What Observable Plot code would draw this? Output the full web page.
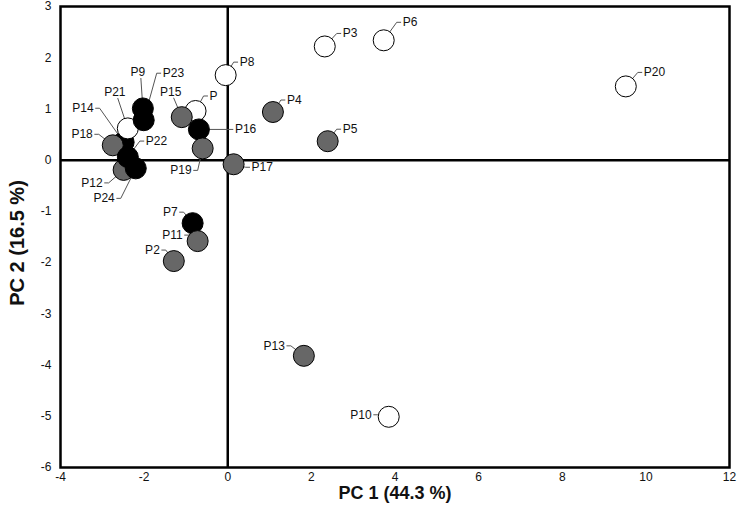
<!DOCTYPE html>
<html><head><meta charset="utf-8">
<script src="https://cdn.jsdelivr.net/npm/d3@7"></script>
<script src="https://cdn.jsdelivr.net/npm/@observablehq/plot@0.6"></script>
<style>body{margin:0;background:#fff}</style>
</head><body><div id="chart"></div><script>
// ---- data ----
const names  = ["P","P2","P3","P4","P5","P6","P7","P8","P9","P10","P11","P12","P13","P14","P15","P16","P17","P18","P19","P20","P21","P22","P23","P24"];
const pc1    = [-0.77,-1.29,2.32,1.08,2.39,3.73,-0.84,-0.05,-2.03,3.85,-0.72,-2.49,1.82,-2.49,-1.10,-0.69,0.14,-2.75,-0.60,9.52,-2.39,-2.39,-2.01,-2.20];
const pc2    = [0.96,-1.97,2.22,0.94,0.37,2.34,-1.23,1.66,1.01,-5.01,-1.58,-0.19,-3.82,0.35,0.84,0.60,-0.08,0.29,0.23,1.44,0.62,0.06,0.78,-0.16];
const groups = ["open","gray","open","gray","gray","open","black","open","black","open","gray","gray","gray","black","gray","black","gray","gray","gray","open","open","black","black","black"];
const groupDomain = ["open","black","gray"];
const groupColors = ["white","black","#676767"];
const xTicks = [-4,-2,0,2,4,6,8,10,12];
const yTicks = [-6,-5,-4,-3,-2,-1,0,1,2,3];
const xTitle = "PC 1 (44.3 %)";
const yTitle = "PC 2 (16.5 %)";

// ---- label layout: leader elbow offset (px) and side of the label ----
const elbowDx = [8,-8,12,8,9,13,-9,8,-2,-11,-9,-15,-13,-24,-8,30,12,-14,-5,12,-10,12,13,-15];
const elbowDy = [-15,-11,-13,-12,-12,-18,-11,-13,-30,-2,-6,13,-10,-34,-19,0,3,-11,22,-14,-30,-16,-47,30];
const side    = ["r","l","r","r","r","r","l","r","u","l","l","l","l","l","u","r","r","l","l","r","u","r","r","l"];

// ---- layout ----
const W = 738, H = 513, mL = 60, mR = 9, mT = 6, mB = 46;
const xDom = [-4, 12], yDom = [-6, 3];
const kx = (xDom[1]-xDom[0]) / (W - mL - mR);
const ky = (yDom[1]-yDom[0]) / (H - mT - mB);

const rows = names.map((n,i) => ({name:n, x:pc1[i], y:pc2[i], g:groups[i],
  ex: pc1[i] + elbowDx[i]*kx, ey: pc2[i] - elbowDy[i]*ky, side: side[i]}));

const leaders = [];
rows.forEach(r => {
  leaders.push({name:r.name, x:r.x, y:r.y});
  leaders.push({name:r.name, x:r.ex, y:r.ey});
  if (r.side === "r") leaders.push({name:r.name, x:r.ex + 4*kx, y:r.ey});
  if (r.side === "l") leaders.push({name:r.name, x:r.ex - 4*kx, y:r.ey});
});

const font = "'Liberation Sans', Arial, sans-serif";
const fmt = d => String(d);

const chart = Plot.plot({
  width: W, height: H,
  marginLeft: mL, marginRight: mR, marginTop: mT, marginBottom: mB,
  style: {fontFamily: font, background: "white", color: "#111"},
  x: {domain: xDom, label: null},
  y: {domain: yDom, label: null},
  color: {domain: groupDomain, range: groupColors},
  marks: [
    Plot.axisX({ticks: xTicks, tickFormat: fmt, tickSize: 0, tickPadding: 5, fontSize: 12, label: null}),
    Plot.axisY({ticks: yTicks, tickFormat: fmt, tickSize: 0, tickPadding: 9, fontSize: 12, label: null}),
    Plot.ruleX([0], {stroke: "black", strokeWidth: 2.5}),
    Plot.ruleY([0], {stroke: "black", strokeWidth: 2.5}),
    Plot.frame({stroke: "black", strokeWidth: 2.5}),
    Plot.line(leaders, {x: "x", y: "y", z: "name", stroke: "#555", strokeWidth: 1}),
    Plot.dot(rows, {x: "x", y: "y", r: 10.5, fill: "g", stroke: "black", strokeWidth: 1}),
    Plot.text(rows.filter(r => r.side === "r"), {x: "ex", y: "ey", text: "name", dx: 6, textAnchor: "start", fontSize: 12, fill: "#111"}),
    Plot.text(rows.filter(r => r.side === "l"), {x: "ex", y: "ey", text: "name", dx: -6, textAnchor: "end", fontSize: 12, fill: "#111"}),
    Plot.text(rows.filter(r => r.side === "u"), {x: "ex", y: "ey", text: "name", dx: -3, dy: -2, lineAnchor: "bottom", textAnchor: "middle", fontSize: 12, fill: "#111"}),
    Plot.text([xTitle], {frameAnchor: "bottom", dy: 31, text: d => d, fontSize: 18, fontWeight: "bold", fill: "#111"}),
    Plot.text([yTitle], {frameAnchor: "left", dx: -43, dy: 6, rotate: -90, textAnchor: "middle", text: d => d, fontSize: 20, fontWeight: "bold", fill: "#111"})
  ]
});
document.getElementById("chart").appendChild(chart);
</script></body></html>
